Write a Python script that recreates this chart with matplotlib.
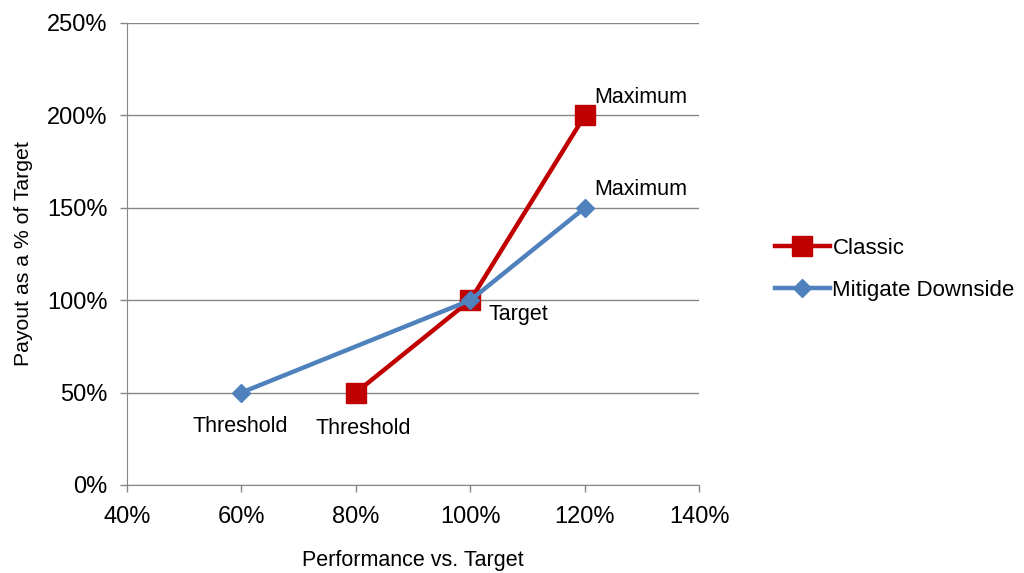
import matplotlib.pyplot as plt
from matplotlib.ticker import PercentFormatter

plt.rcParams['font.family'] = ['Liberation Sans', 'DejaVu Sans']

# performance vs. target (%) and payout as % of target
classic_x = [80, 100, 120]
classic_y = [50, 100, 200]
mitigate_x = [60, 100, 120]
mitigate_y = [50, 100, 150]

red = '#C00000'
blue = '#4F81BD'
grid_col = '#868686'

fig = plt.figure(figsize=(10.24, 5.73), dpi=100)
ax = fig.add_axes([0.124, 0.1536, 0.559, 0.8063])

ax.plot(classic_x, classic_y, color=red, lw=3.2, marker='s', ms=14,
        label='Classic', zorder=3)
ax.plot(mitigate_x, mitigate_y, color=blue, lw=3.2, marker='D', ms=9.5,
        label='Mitigate Downside', zorder=4)

# point annotations
fs = 15.5
ax.annotate('Threshold', (60, 50), xytext=(-1, -17), textcoords='offset points',
            ha='center', va='top', fontsize=fs)
ax.annotate('Threshold', (80, 50), xytext=(5, -18), textcoords='offset points',
            ha='center', va='top', fontsize=fs)
ax.annotate('Target', (100, 100), xytext=(13, -10), textcoords='offset points',
            ha='left', va='center', fontsize=fs)
ax.annotate('Maximum', (120, 200), xytext=(7, 13), textcoords='offset points',
            ha='left', va='center', fontsize=fs)
ax.annotate('Maximum', (120, 150), xytext=(7, 13), textcoords='offset points',
            ha='left', va='center', fontsize=fs)

ax.set_xlim(40, 140)
ax.set_ylim(0, 250)
ax.set_xticks(range(40, 141, 20))
ax.set_yticks(range(0, 251, 50))
ax.xaxis.set_major_formatter(PercentFormatter(decimals=0))
ax.yaxis.set_major_formatter(PercentFormatter(decimals=0))
ax.tick_params(labelsize=17, color=grid_col, length=5, width=1)
ax.tick_params(axis='x', pad=10)
ax.tick_params(axis='y', pad=9)

ax.grid(axis='y', color=grid_col, lw=1)
ax.set_axisbelow(True)
for s in ['top', 'right']:
    ax.spines[s].set_visible(False)
for s in ['left', 'bottom']:
    ax.spines[s].set_color(grid_col)

ax.set_xlabel('Performance vs. Target', fontsize=15.5, labelpad=16)
ax.set_ylabel('Payout as a % of Target', fontsize=15.3, labelpad=10)

fig.legend(loc='center left', bbox_to_anchor=(0.737, 0.53), frameon=False,
           fontsize=16, handlelength=2.5, handletextpad=0.1, labelspacing=0.95)

fig.savefig('out.png', dpi=100)
